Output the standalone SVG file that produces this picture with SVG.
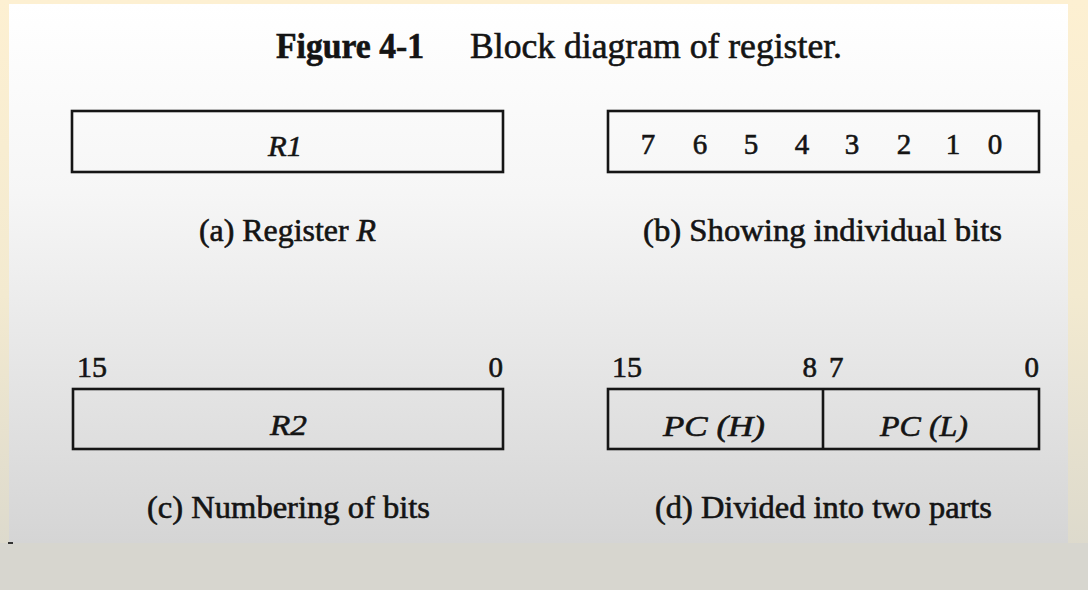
<svg xmlns="http://www.w3.org/2000/svg" width="1088" height="590" viewBox="0 0 1088 590">
  <defs>
    <linearGradient id="outer" x1="0" y1="0" x2="0" y2="1">
      <stop offset="0" stop-color="#fdf0d2"/>
      <stop offset="0.5" stop-color="#f3ead0"/>
      <stop offset="1" stop-color="#d9d7cc"/>
    </linearGradient>
    <linearGradient id="panel" x1="0" y1="0" x2="0" y2="1">
      <stop offset="0" stop-color="#ffffff"/>
      <stop offset="0.35" stop-color="#f6f6f6"/>
      <stop offset="1" stop-color="#d5d5d5"/>
    </linearGradient>
    <style>
      .box { fill: none; stroke: #151515; stroke-width: 2.6; }
      .t { font-family: "Liberation Serif", "Times New Roman", serif; fill: #141414; stroke: #141414; stroke-width: 0.6; }
      .title { font-size: 35px; }
      .cap { font-size: 31px; }
      .num { font-size: 29px; }
      .lbl { font-size: 30px; font-style: italic; }
    </style>
  </defs>

  <rect x="0" y="0" width="1088" height="590" fill="url(#outer)"/>
  <rect x="0" y="543" width="1088" height="47" fill="#d7d6cf"/>
  <rect x="9" y="4" width="1059" height="539" fill="url(#panel)"/>
  <rect x="8" y="542" width="5" height="2" fill="#333"/>

  <g id="title">
    <text class="t title" x="276" y="58" font-weight="bold" textLength="148" lengthAdjust="spacingAndGlyphs">Figure 4-1</text>
    <text class="t title" x="470" y="58" textLength="372" lengthAdjust="spacingAndGlyphs">Block diagram of register.</text>
  </g>

  <g id="reg-a">
    <rect class="box" x="72" y="111" width="431" height="61"/>
    <text class="t lbl" x="268" y="156" textLength="34" lengthAdjust="spacingAndGlyphs">R1</text>
    <text class="t cap" x="199" y="241" textLength="177" lengthAdjust="spacingAndGlyphs">(a) Register <tspan font-style="italic">R</tspan></text>
  </g>

  <g id="reg-b">
    <rect class="box" x="608" y="111" width="431" height="61"/>
    <g class="t num" text-anchor="middle">
      <text x="648" y="154">7</text>
      <text x="700" y="154">6</text>
      <text x="751" y="154">5</text>
      <text x="802" y="154">4</text>
      <text x="852" y="154">3</text>
      <text x="904" y="154">2</text>
      <text x="953" y="154">1</text>
      <text x="995" y="154">0</text>
    </g>
    <text class="t cap" x="643" y="241" textLength="359" lengthAdjust="spacingAndGlyphs">(b) Showing individual bits</text>
  </g>

  <g id="reg-c">
    <text class="t num" x="77" y="377" textLength="30" lengthAdjust="spacingAndGlyphs">15</text>
    <text class="t num" x="503" y="377" text-anchor="end">0</text>
    <rect class="box" x="73" y="389" width="430" height="60"/>
    <text class="t lbl" x="270" y="435" textLength="37" lengthAdjust="spacingAndGlyphs">R2</text>
    <text class="t cap" x="147" y="518" textLength="283" lengthAdjust="spacingAndGlyphs">(c) Numbering of bits</text>
  </g>

  <g id="reg-d">
    <text class="t num" x="612" y="377" textLength="30" lengthAdjust="spacingAndGlyphs">15</text>
    <text class="t num" x="817" y="377" text-anchor="end">8</text>
    <text class="t num" x="829" y="377">7</text>
    <text class="t num" x="1039" y="377" text-anchor="end">0</text>
    <rect class="box" x="608" y="389" width="431" height="60"/>
    <line class="box" x1="823" y1="389" x2="823" y2="449"/>
    <text class="t lbl" x="663" y="436" textLength="102" lengthAdjust="spacingAndGlyphs">PC (H)</text>
    <text class="t lbl" x="880" y="436" textLength="88" lengthAdjust="spacingAndGlyphs">PC (L)</text>
    <text class="t cap" x="655" y="518" textLength="337" lengthAdjust="spacingAndGlyphs">(d) Divided into two parts</text>
  </g>
</svg>
